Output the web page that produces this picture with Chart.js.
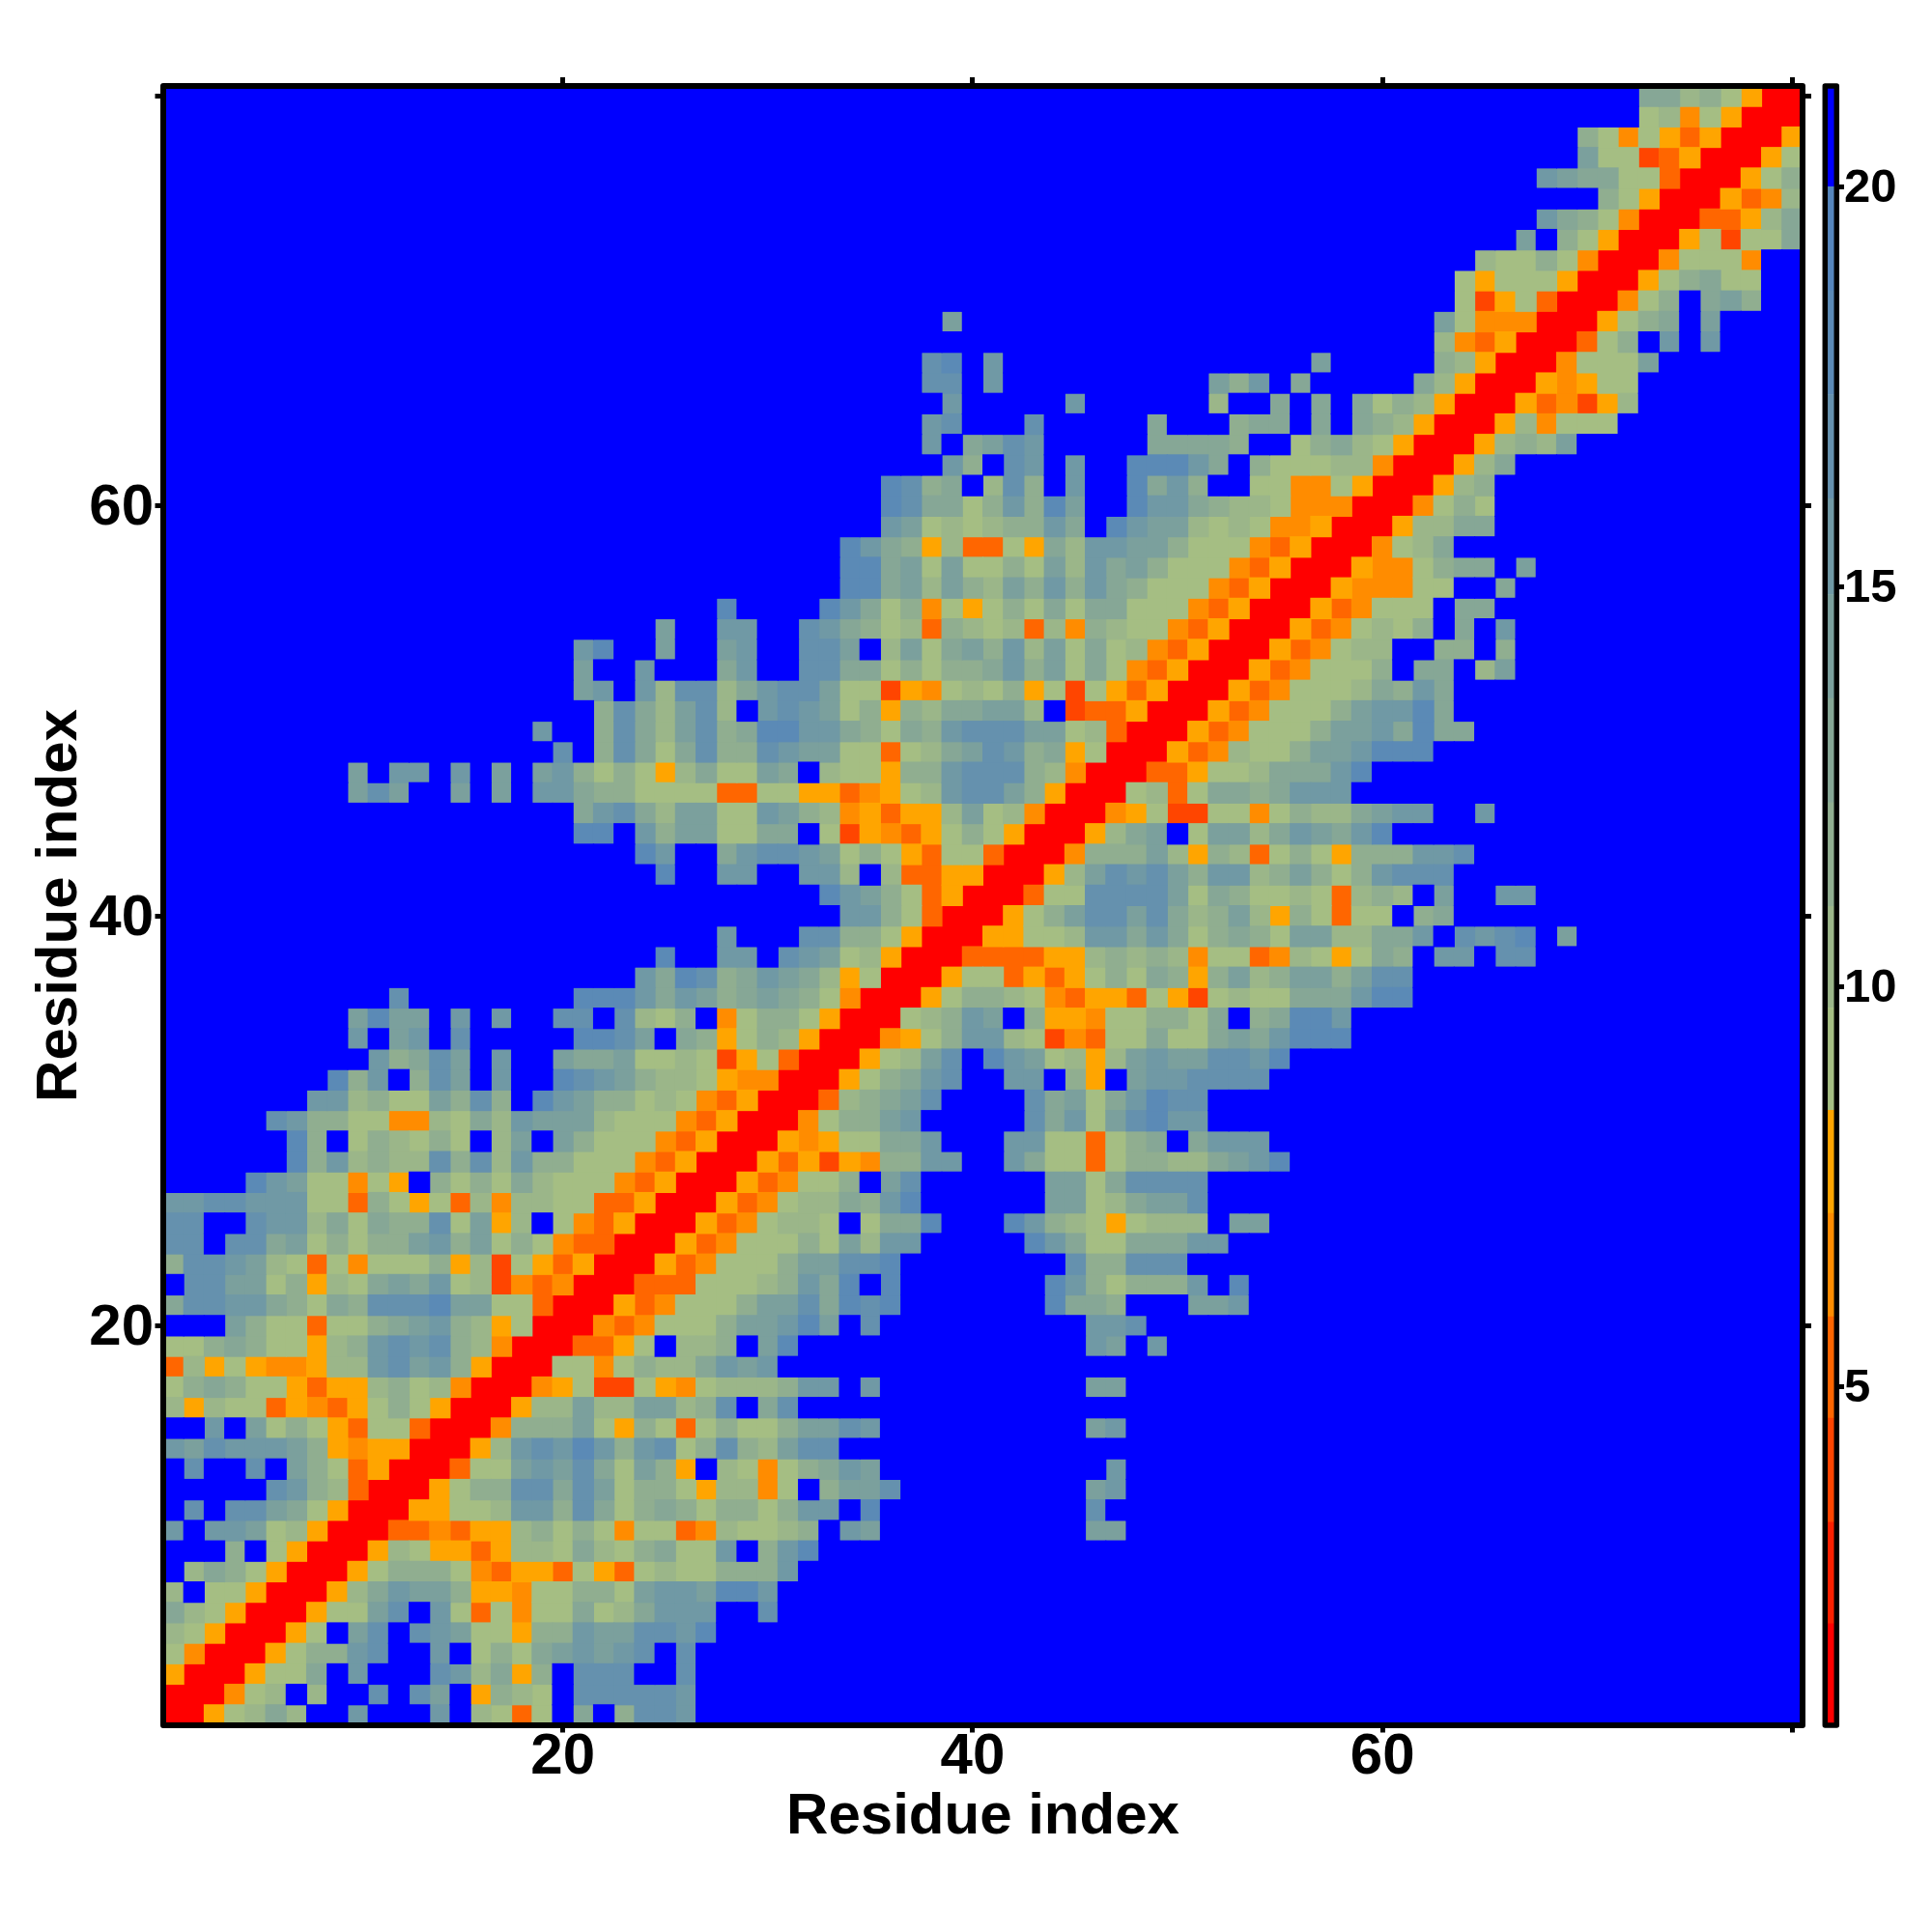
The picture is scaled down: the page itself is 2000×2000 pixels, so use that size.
<!DOCTYPE html>
<html><head><meta charset="utf-8">
<style>
html,body{margin:0;padding:0;background:#fff}
#wrap{position:relative;width:2000px;height:2000px}
canvas{position:absolute;top:0}
#map{left:0}
#key{left:1860px}
</style>
<script src="https://cdn.jsdelivr.net/npm/chart.js@4/dist/chart.umd.js"></script>
</head><body><div id="wrap"><canvas id="map" width="2000" height="2000"></canvas><canvas id="key" width="140" height="2000"></canvas></div>
<script>
// Upper half of the symmetric residue map: each row starts on its diagonal cell.
// a-f = warm bins, 1-9 = sage to steel bins, '.' = beyond the last bin.
const rowsA = [
"aaf1242..6...6.21d1.4.3776","aae12.2..7.75.f321.777776","aaf114.6...7624f3.777..7","aaf13367..6.131456567.7",
"aaf1.57.76511f336557768","aaf1157.61d1e114124666..7","aaf246553ffe113315665886","aaf13331edffd1fd12113336",
"aaf21ffdf22142134116.368","aaddedff23131e11de21123.65..........55","aaff1126637413431331366.8..........7","aaf133774751331f22e1.3557.........56",
"aad1156574153f.21e13465...........6","aaf26768636713732577","aae33351f31d131135576..........56","aaf2252255237.47",
"aaef1cc1fe1222366.6..........55","aa11e13224656","aaddf1.223.58..............65.6","aaede111355685.7..........667"];
const rowsB = [
"aafde11135574878.......8443...556","aaddd11123648.8.......86313336.8","aafde111355778........733777","aafde111315266.....8641144466",
"aafde1221.1448...86321f1222.55","aafde1224368......55124557","aafde113.57......55147777","aafdfcfe3366..6411d133224568",
"aafef11446...6611d134.4666","aae13356.....746157866","aad23457....745146877","aaf13467..66.3f.5667777",
"aaf1257.86512f256557768","aaef136621ced114114546888","aa12365.3ffe113314.34886","aaf13321edffd1fc1211444688",
"aaf11dfdf13143f3523553577","aaddddff23232e11de21f143.66.77","aaff11266464134315522446.7678.5","aaf135775742352f31d11.34"];
const rowsC = [
"aad11777751431121d232.5..66","aaf2576753662353136777","aae33352f32d131f333667","aaf245.1552465468",
"aaef1cc11e13224566..6","aa12d14434666","aaddf11244468","aafde2113556888",
"aafde11135564844","aafde111356684","aafde11124364","aafde1113.44.25",
"aafde122..33.3","aafde1213.4.6","aafde111.44","aafeee11..4",
"aafee1344.5","aae124","aaf2244","aae131"];
const rowsD = [
"aaf23","aaf24","aaf2325","aaf2e111","aafdecf2","aafef11","aae1115","aad13.6.6",
"aaf134.5","aae13.453","aaf13411","aae111e","aaf1c114","aaddf24","aafde2","aaf13","aaf1","aaf","aa","a"];

const binCodes  = ["a","b","c","d","e","f","1","2","3","4","5","6","7","8","9","."];
const binEdges  = [0.76,2.03,3.3,4.6,5.87,7.16,8.45,9.73,11.0,12.3,13.6,14.9,16.1,17.4,18.7,20.0,21.26];
const binColors = ["#ff0000","#fa2000","#ff4500","#ff6600","#ff8c00","#ffa500",
  "#a5be83","#9bb689","#90ae90","#86a796","#7ba09d","#7099a5","#6591ae","#5b8ab6","#5585bc","#0000ff"];
const tickValues = [20,40,60,80];
const keyTicks = [5,10,15,20];
const residues = 80;
const axisTitle = "Residue index";

const FONT = "'Liberation Sans', Arial, sans-serif";
const rows = rowsA.concat(rowsB, rowsC, rowsD);
const points = binCodes.map(() => []);
for (let r = 1; r <= residues; r++) {
  const s = rows[r-1];
  for (let c = r; c <= residues; c++) {
    const code = (c-r) < s.length ? s[c-r] : ".";
    const b = binCodes.indexOf(code);
    points[b].push({x:c, y:r});
    if (c !== r) points[b].push({x:r, y:c});
  }
}

function frame(width, fill){
  return {
    id:"frame",
    beforeDatasetsDraw(ch){
      if (!fill) return;
      const a = ch.chartArea, g = ch.ctx;
      g.save(); g.fillStyle=fill; g.fillRect(a.left,a.top,a.right-a.left,a.bottom-a.top); g.restore();
    },
    afterDatasetsDraw(ch){
      const a = ch.chartArea, g = ch.ctx;
      g.save(); g.strokeStyle="#000"; g.lineWidth=width; g.lineJoin="round";
      g.strokeRect(a.left,a.top,a.right-a.left,a.bottom-a.top); g.restore();
    }
  };
}

function mapAxis(axis, position, size, labelled, tickLength, extra){
  const horizontal = axis === "x";
  return Object.assign({
    axis, position, type:"linear", min:0.5, max:residues+0.5,
    afterBuildTicks(s){ s.ticks = tickValues.map(v => ({value:v})); },
    afterFit(s){ if (horizontal) s.height = size; else s.width = size; },
    border:{display:false},
    grid:{drawOnChartArea:false, drawTicks:true, tickLength, tickWidth:5, tickColor:"#000"},
    ticks:{display:labelled, autoSkip:false, maxRotation:0, minRotation:0,
      padding:horizontal?-10:1.5, labelOffset:horizontal?0:3, color:"#000",
      font:{family:FONT, size:60, weight:"bold"},
      callback:v => (v===80 ? "" : String(v))}
  }, extra||{});
}

Chart.defaults.animation = false;

new Chart(document.getElementById("map"), {
  type:"scatter",
  data:{datasets:binCodes.map((code,i)=>({
    label:code, data:points[i], parsing:false, normalized:true,
    pointStyle:"rect", pointRadius:15.75, pointHoverRadius:15.75, pointBorderWidth:0,
    backgroundColor:binColors[i], borderColor:binColors[i]
  })).reverse()},
  options:{
    responsive:false, animation:false, events:[],
    layout:{padding:0},
    plugins:{legend:{display:false}, tooltip:{enabled:false}},
    scales:{
      x:mapAxis("x","bottom",214,true,7.5,{title:{display:true,text:axisTitle,color:"#000",font:{family:FONT,size:60,weight:"bold"},padding:{top:0,bottom:83}}}),
      y:mapAxis("y","left",169,true,8.5,{title:{display:true,text:axisTitle,color:"#000",font:{family:FONT,size:60,weight:"bold"},padding:{top:26,bottom:0}}}),
      xTop:mapAxis("x","top",89,false,9),
      yRight:mapAxis("y","right",134,false,9)
    }
  },
  plugins:[frame(6,"#0000ff")]
});

new Chart(document.getElementById("key"), {
  type:"bar",
  data:{labels:["key"],datasets:binColors.map((col,i)=>({
    data:[[binEdges[i],binEdges[i+1]]], backgroundColor:col, borderWidth:0,
    barPercentage:1, categoryPercentage:1, grouped:false
  }))},
  options:{
    responsive:false, animation:false, events:[],
    layout:{padding:{left:29.3,top:89,bottom:214}},
    plugins:{legend:{display:false}, tooltip:{enabled:false}},
    scales:{
      x:{display:false, offset:true},
      y:{position:"right", min:binEdges[0], max:binEdges[binEdges.length-1],
        afterBuildTicks(s){ s.ticks = keyTicks.map(v => ({value:v})); },
        afterFit(s){ s.width = 98.7; },
        border:{display:false},
        grid:{drawOnChartArea:false, tickLength:7.7, tickWidth:5, tickColor:"#000"},
        ticks:{autoSkip:false, maxRotation:0, padding:0, labelOffset:2.5, color:"#000",
          font:{family:FONT,size:49,weight:"bold"}, callback:v=>String(v)}
      }
    }
  },
  plugins:[frame(5.5)]
});
</script></body></html>
